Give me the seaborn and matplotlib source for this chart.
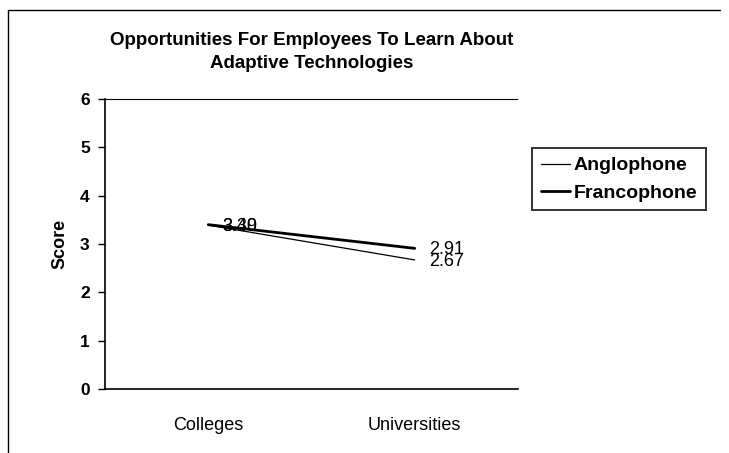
import pandas as pd
import numpy as np
import matplotlib
matplotlib.use("Agg")
import matplotlib.pyplot as plt
import seaborn as sns
from matplotlib.lines import Line2D

# data
categories = ["Colleges", "Universities"]
anglophone = [3.39, 2.67]
francophone = [3.40, 2.91]
groups = ["Anglophone", "Francophone"]

df = pd.DataFrame({
    "Sector": categories * 2,
    "Score": anglophone + francophone,
    "Group": [groups[0]] * 2 + [groups[1]] * 2,
})

sns.set_theme(style="white")
plt.rcParams["font.family"] = ["Liberation Sans", "DejaVu Sans"]
plt.rcParams["text.color"] = "black"
plt.rcParams["xtick.color"] = "black"
plt.rcParams["ytick.color"] = "black"
plt.rcParams["axes.labelcolor"] = "black"

fig = plt.figure(figsize=(7.29, 4.53), dpi=100)
ax = fig.add_axes([105 / 729, 1 - 389 / 453, (518 - 105) / 729, (389 - 99) / 453])

sns.lineplot(data=df, x="Sector", y="Score", hue="Group", size="Group",
             sizes={"Anglophone": 0.9, "Francophone": 2.0},
             palette={"Anglophone": "black", "Francophone": "black"},
             sort=False, ax=ax)

# data labels
for vals in (anglophone, francophone):
    for i, v in enumerate(vals):
        ax.annotate(f"{v:.2f}", (i, v), xytext=(10, -1), textcoords="offset points",
                    va="center", ha="left", fontsize=13, color="black")

ax.set_xlim(-0.5, 1.5)
ax.set_ylim(0, 6)
ax.set_yticks(range(0, 7))
ax.set_yticklabels([str(t) for t in range(0, 7)], fontsize=12.5, fontweight="bold")
ax.set_xticks([0, 1])
ax.set_xticklabels(categories, fontsize=13)
ax.set_xticks([-0.5, 0.5, 1.5], minor=True)
ax.tick_params(axis="x", which="major", length=0, pad=20)
ax.tick_params(axis="x", which="minor", length=5, direction="out", width=1, color="black")
ax.tick_params(axis="y", length=5, direction="out", width=1, color="black", left=True, pad=6)

ax.set_xlabel("")
ax.set_ylabel("Score", fontsize=13, fontweight="bold", labelpad=8)
ax.set_title("Opportunities For Employees To Learn About\nAdaptive Technologies",
             fontsize=13.5, fontweight="bold", pad=22, linespacing=1.5)

for s in ["left", "bottom"]:
    ax.spines[s].set_color("black")
    ax.spines[s].set_linewidth(1.2)
ax.spines["right"].set_visible(False)
ax.spines["top"].set_color("black")
ax.spines["top"].set_linewidth(0.8)
ax.spines["top"].set_linestyle((0, (2, 1)))

leg = ax.legend(handles=[Line2D([], [], color="black", lw=0.9),
                         Line2D([], [], color="black", lw=2.0)],
                labels=groups, loc="upper left",
                bbox_to_anchor=(532 / 729, 1 - 148 / 453),
                bbox_transform=fig.transFigure, frameon=True, fancybox=False,
                edgecolor="black", prop={"size": 14, "weight": "bold"},
                handlelength=1.5, handletextpad=0.2, borderpad=0.45,
                labelspacing=0.5, borderaxespad=0)
leg.get_frame().set_linewidth(1.4)

# outer chart border
fig.add_artist(Line2D([8 / 729, 720 / 729], [1 - 10 / 453, 1 - 10 / 453],
                      transform=fig.transFigure, color="black", lw=1))
fig.add_artist(Line2D([8 / 729, 8 / 729], [0, 1 - 10 / 453],
                      transform=fig.transFigure, color="black", lw=1))

fig.savefig("out.png", dpi=100, facecolor="white")
